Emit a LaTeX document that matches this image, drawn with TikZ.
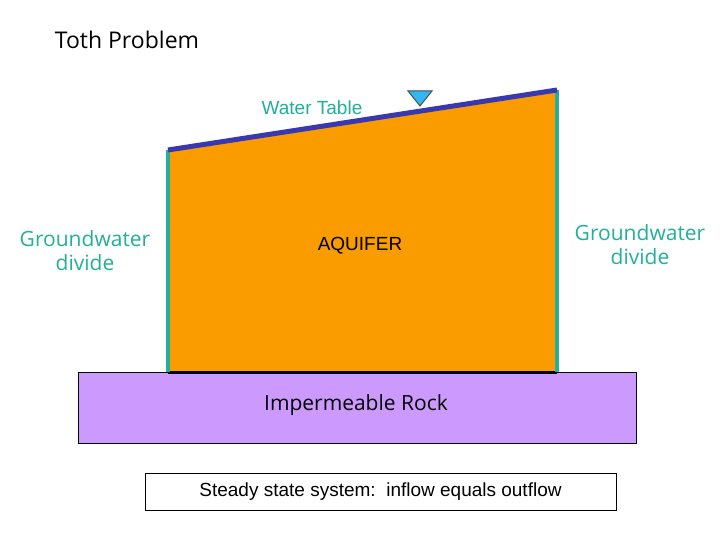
\documentclass[tikz,border=0pt]{standalone}
\usepackage{fontspec}
\setmainfont{Liberation Sans}
\newfontfamily\hum{Open Sans}
\begin{document}
\begin{tikzpicture}[x=1pt,y=-1pt,
  lbl/.style={inner sep=0pt,align=center},
  divtxt/.style={lbl,font=\hum\fontsize{21}{24}\selectfont,text=teal1}]
\definecolor{teal1}{HTML}{22B09A}
\definecolor{aq}{HTML}{FA9B00}
\definecolor{rock}{HTML}{CC99FF}
\definecolor{wt}{HTML}{3838B0}
\definecolor{tri}{HTML}{30B8F0}
\useasboundingbox[fill=white] (0,0) rectangle (720,540);
\coordinate (tl) at (168,150); \coordinate (tr) at (557,90);
\coordinate (bl) at (168,372); \coordinate (br) at (557,372);
\fill[aq] (tl) -- (tr) -- (br) -- (bl) -- cycle;
\node[draw=black,fill=rock,minimum width=558pt,minimum height=71pt,anchor=north west,inner sep=0pt] (rock) at (78,372) {};
\draw[line width=3pt] (bl) -- (br);
\draw[teal1,line width=4pt] (tl) -- (bl);
\draw[teal1,line width=4pt] (tr) -- (br);
\draw[wt,line width=5pt] (tl) -- (tr);
\draw[fill=tri,draw=black!70,line width=1pt] (408,91) -- (432,91) -- (420,106) -- cycle;
\node[lbl,font=\hum\fontsize{23}{26}\selectfont] (title) at (127,40) {Toth Problem};
\node[lbl,font=\fontsize{19}{22}\selectfont,text=teal1] (wtl) at (312,108) {Water Table};
\node[divtxt] (gl) at (85,251) {Groundwater\\divide};
\node[divtxt] (gr) at (640,245) {Groundwater\\divide};
\node[lbl,font=\fontsize{19}{22}\selectfont] (aqt) at (360,246) {AQUIFER};
\node[lbl,font=\hum\fontsize{21}{24}\selectfont] (rt) at (356,405) {Impermeable Rock};
\node[draw=black,fill=white,minimum width=471pt,minimum height=37pt,inner sep=0pt,font=\fontsize{19}{22}\selectfont] (ss) at (380.5,491.5) {Steady state system:\ \ inflow equals outflow};
\end{tikzpicture}
\end{document}
